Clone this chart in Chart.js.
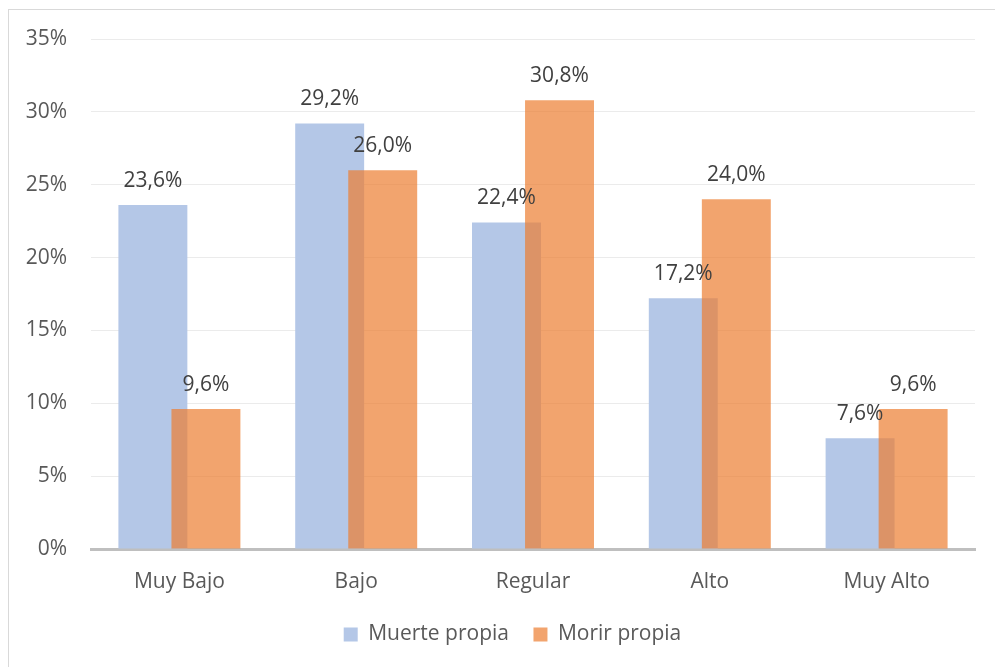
<!DOCTYPE html>
<html>
<head>
<meta charset="utf-8">
<script src="https://cdn.jsdelivr.net/npm/chart.js@4/dist/chart.umd.min.js"></script>
<style>
  html, body { margin: 0; padding: 0; background: #fff; overflow: hidden; }
  #frame {
    position: absolute; left: 8px; top: 9px;
    width: 1000px; height: 700px;
    border: 1px solid #d9d9d9;
  }
  #wrap { position: absolute; left: 0; top: 0; width: 995px; height: 667px; }
</style>
</head>
<body>
<div id="frame"></div>
<div id="wrap"><canvas id="chart" width="995" height="667"></canvas></div>
<script>
const categories = ['Muy Bajo', 'Bajo', 'Regular', 'Alto', 'Muy Alto'];
const muertePropia = [23.6, 29.2, 22.4, 17.2, 7.6];
const morirPropia = [9.6, 26.0, 30.8, 24.0, 9.6];
const seriesNames = ['Muerte propia', 'Morir propia'];
const yTicks = [0, 5, 10, 15, 20, 25, 30, 35];

Chart.defaults.font.family = "'Open Sans', sans-serif";
Chart.defaults.font.size = 21;
Chart.defaults.color = '#595959';

const fmt = v => v.toFixed(1).replace('.', ',') + '%';

// the orange series has to sit over the blue one, so hold it back
// from the normal pass and draw it afterwards, then the value labels
const overlapBars = {
    id: 'overlapBars',
    afterLayout(chart) {
        // legend sits a bit right of the plot centre
        chart.legend.left += 25;
        chart.legend.right += 25;
    },
    beforeDatasetDraw(chart, args) {
        if (args.index === 1) return false;
    },
    afterDatasetsDraw(chart) {
        const ctx = chart.ctx;
        chart.getDatasetMeta(1).controller.draw();

        ctx.save();
        ctx.font = "21px 'Open Sans', sans-serif";
        ctx.fillStyle = '#404040';
        ctx.textAlign = 'center';
        ctx.textBaseline = 'alphabetic';
        chart.data.datasets.forEach((ds, i) => {
            chart.getDatasetMeta(i).data.forEach((bar, j) => {
                ctx.fillText(fmt(ds.data[j]), bar.x, bar.y - 18.5);
            });
        });
        ctx.restore();
    }
};

new Chart(document.getElementById('chart'), {
    type: 'bar',
    data: {
        labels: categories,
        datasets: [{
            label: seriesNames[0],
            data: muertePropia,
            backgroundColor: '#b4c7e7',
            borderWidth: 0,
            categoryPercentage: 0.6,
            barPercentage: 1.3
        }, {
            label: seriesNames[1],
            data: morirPropia,
            backgroundColor: 'rgba(237, 125, 49, 0.7)',
            borderWidth: 0,
            categoryPercentage: 0.6,
            barPercentage: 1.3
        }]
    },
    options: {
        responsive: false,
        animation: false,
        layout: { padding: { left: 0, right: 20, top: 39, bottom: 12 } },
        plugins: {
            legend: {
                position: 'bottom',
                labels: {
                    boxWidth: 14,
                    boxHeight: 14,
                    padding: 24.5,
                    color: '#595959',
                    font: { size: 21 }
                }
            },
            tooltip: { enabled: false }
        },
        scales: {
            x: {
                grid: { display: false },
                border: { color: '#bfbfbf', width: 3 },
                ticks: { padding: 12, color: '#595959' },
                afterFit(scale) { scale.height = 50.5; }
            },
            y: {
                min: 0,
                max: 35,
                afterBuildTicks(scale) { scale.ticks = yTicks.map(v => ({ value: v })); },
                grid: { color: '#ebebeb', drawTicks: false },
                border: { display: false },
                ticks: {
                    padding: 24,
                    color: '#595959',
                    callback: v => v + '%'
                },
                afterFit(scale) { scale.width = 91; }
            }
        }
    },
    plugins: [overlapBars]
});
</script>
</body>
</html>
